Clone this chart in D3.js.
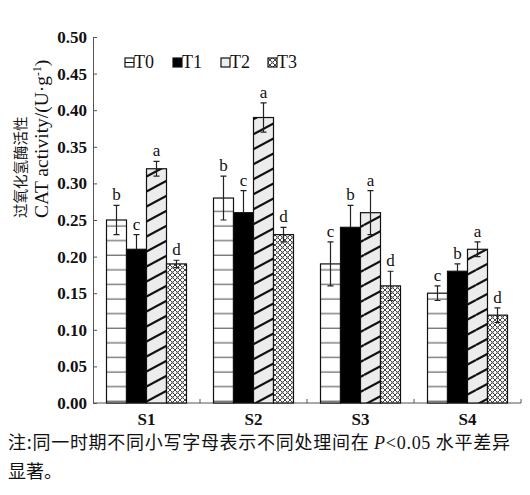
<!DOCTYPE html>
<html>
<head>
<meta charset="utf-8">
<script src="https://cdn.jsdelivr.net/npm/d3@7"></script>
<style>
  body { margin: 0; background: #fff; }
  text { font-family: "Liberation Serif", "DejaVu Serif", serif; }
</style>
</head>
<body>
<div id="chart"></div>
<script>
// Datos
const stages = ["S1", "S2", "S3", "S4"]
const treatments = ["T0", "T1", "T2", "T3"]
const meanT0 = [0.25, 0.28, 0.19, 0.15]
const meanT1 = [0.21, 0.26, 0.24, 0.18]
const meanT2 = [0.32, 0.39, 0.26, 0.21]
const meanT3 = [0.19, 0.23, 0.16, 0.12]
const errT0 = [0.02, 0.03, 0.03, 0.01]
const errT1 = [0.02, 0.03, 0.03, 0.01]
const errT2 = [0.01, 0.02, 0.03, 0.01]
const errT3 = [0.005, 0.01, 0.02, 0.01]
const letT0 = ["b", "b", "c", "c"]
const letT1 = ["c", "c", "b", "b"]
const letT2 = ["a", "a", "a", "a"]
const letT3 = ["d", "d", "d", "d"]
const yTicks = [0, 0.05, 0.1, 0.15, 0.2, 0.25, 0.3, 0.35, 0.4, 0.45, 0.5]

const means = [meanT0, meanT1, meanT2, meanT3]
const errs = [errT0, errT1, errT2, errT3]
const lets = [letT0, letT1, letT2, letT3]

const width = 530
const height = 495
const margins = { top: 37, bottom: 92, left: 93, right: 9 }

const svg = d3.select("#chart").append("svg").attr("width", width).attr("height", height)

// Patrones de relleno
const defs = svg.append("defs")
const pH = defs.append("pattern").attr("id", "pT0").attr("patternUnits", "userSpaceOnUse")
    .attr("width", 20).attr("height", 14.6)
pH.append("rect").attr("width", 20).attr("height", 14.6).attr("fill", "#fff")
pH.append("line").attr("x1", 0).attr("x2", 20).attr("y1", 7).attr("y2", 7).attr("stroke", "#444").attr("stroke-width", 1)

const pD = defs.append("pattern").attr("id", "pT2").attr("patternUnits", "userSpaceOnUse")
    .attr("width", 28).attr("height", 15)
pD.append("rect").attr("width", 28).attr("height", 15).attr("fill", "#ececec")
;[-15, 0, 15].forEach(o => {
    pD.append("line").attr("x1", 0).attr("y1", 15 + o).attr("x2", 28).attr("y2", o)
        .attr("stroke", "#111").attr("stroke-width", 2.2)
})

const pX = defs.append("pattern").attr("id", "pT3").attr("patternUnits", "userSpaceOnUse")
    .attr("width", 5).attr("height", 5)
pX.append("rect").attr("width", 5).attr("height", 5).attr("fill", "#fff")
pX.append("path").attr("d", "M0,0L5,5M5,0L0,5").attr("stroke", "#444").attr("stroke-width", 1)
pX.append("path").attr("d", "M2.5,1.2V3.8M1.2,2.5H3.8").attr("stroke", "#777").attr("stroke-width", 0.6)

const fills = { T0: "url(#pT0)", T1: "#000", T2: "url(#pT2)", T3: "url(#pT3)" }

// Escalas
const x0 = d3.scaleBand().domain(stages).range([margins.left, width - margins.right])
const x1 = d3.scaleBand().domain(treatments).range([13.5, x0.bandwidth() - 13.5])
const y = d3.scaleLinear().domain([0, 0.5]).range([height - margins.bottom, margins.top])

// Eje Y
const yAxis = d3.axisLeft(y).tickValues(yTicks).tickFormat(d3.format(".2f"))
    .tickSizeInner(-4).tickSizeOuter(0).tickPadding(6)
const gy = svg.append("g").attr("transform", `translate(${margins.left},0)`).call(yAxis)
gy.select(".domain").attr("stroke", "#555")
gy.selectAll(".tick line").attr("stroke", "#555")
gy.selectAll(".tick text").attr("font-size", 17).attr("font-weight", "bold").attr("fill", "#111")
    .style("font-family", "Liberation Serif")

// Eje X
const gx = svg.append("g")
gx.append("line").attr("x1", margins.left).attr("x2", width - margins.right)
    .attr("y1", y(0)).attr("y2", y(0)).attr("stroke", "#555")
gx.selectAll(".xt").data(stages).enter().append("line")
    .attr("x1", d => x0(d) + x0.bandwidth()).attr("x2", d => x0(d) + x0.bandwidth())
    .attr("y1", y(0)).attr("y2", y(0) - 4).attr("stroke", "#555")
gx.selectAll(".xl").data(stages).enter().append("text")
    .attr("x", d => x0(d) + x0.bandwidth() / 2).attr("y", y(0) + 22)
    .attr("text-anchor", "middle").attr("font-size", 17).attr("font-weight", "bold").attr("fill", "#111")
    .text(d => d)

// Barras
const rows = []
stages.forEach((s, i) => treatments.forEach((t, j) => {
    rows.push({ s, t, v: means[j][i], e: errs[j][i], l: lets[j][i] })
}))

const g = svg.append("g")
g.selectAll(".bar").data(rows).enter().append("rect")
    .attr("x", d => x0(d.s) + x1(d.t)).attr("width", x1.bandwidth())
    .attr("y", d => y(d.v)).attr("height", d => y(0) - y(d.v))
    .attr("fill", d => fills[d.t]).attr("stroke", "#111").attr("stroke-width", 1.2)

// Barras de error (en T1 solo se ve la parte superior)
const cx = d => x0(d.s) + x1(d.t) + x1.bandwidth() / 2
g.selectAll(".err").data(rows).enter().append("path")
    .attr("d", d => d.t === "T1"
        ? `M${cx(d)},${y(d.v)}V${y(d.v + d.e)}M${cx(d) - 3},${y(d.v + d.e)}H${cx(d) + 3}`
        : `M${cx(d)},${y(d.v - d.e)}V${y(d.v + d.e)}` +
          `M${cx(d) - 3},${y(d.v + d.e)}H${cx(d) + 3}M${cx(d) - 3},${y(d.v - d.e)}H${cx(d) + 3}`)
    .attr("stroke", "#222").attr("stroke-width", 1.2).attr("fill", "none")

g.selectAll(".let").data(rows).enter().append("text")
    .attr("x", cx).attr("y", d => y(d.v + d.e) - 5)
    .attr("text-anchor", "middle").attr("font-size", 17).attr("fill", "#111")
    .text(d => d.l)

// Leyenda
const legX = [125, 173, 221, 268]
const leg = svg.append("g")
treatments.forEach((t, i) => {
    leg.append("rect").attr("x", legX[i]).attr("y", 58).attr("width", 9).attr("height", 9)
        .attr("fill", t === "T0" ? "#fff" : t === "T2" ? "#eee" : fills[t]).attr("stroke", "#111").attr("stroke-width", 1.2)
    if (t === "T0") leg.append("line").attr("x1", legX[i]).attr("x2", legX[i] + 9)
        .attr("y1", 62.5).attr("y2", 62.5).attr("stroke", "#111")
    leg.append("text").attr("x", legX[i] + 9).attr("y", 68).attr("font-size", 18)
        .attr("fill", "#111").text(t)
})

// Titulo del eje Y
svg.append("text").attr("transform", "translate(26,218) rotate(-90)")
    .attr("font-size", 14.5).attr("fill", "#111")
    .style("font-family", "Noto Sans CJK SC").text("过氧化氢酶活性")
const yl = svg.append("text").attr("transform", "translate(48,218) rotate(-90)")
    .attr("font-size", 19.5).attr("fill", "#111")
yl.append("tspan").text("CAT activity/(U·g")
yl.append("tspan").attr("font-size", 11.5).attr("dy", -7).text("-1")
yl.append("tspan").attr("dy", 7).text(")")

// Nota
const note = svg.append("text").attr("x", 8).attr("y", 449).attr("font-size", 18).attr("fill", "#111")
    .attr("textLength", 502).attr("lengthAdjust", "spacing")
    .style("font-family", "Noto Sans CJK SC")
note.append("tspan").text("注:同一时期不同小写字母表示不同处理间在 ")
note.append("tspan").attr("font-style", "italic").style("font-family", "Liberation Serif").text("P")
note.append("tspan").style("font-family", "Liberation Serif").text("<0.05")
note.append("tspan").text(" 水平差异")
svg.append("text").attr("x", 8).attr("y", 478).attr("font-size", 18).attr("fill", "#111")
    .style("font-family", "Noto Sans CJK SC").text("显著。")
</script>
</body>
</html>
